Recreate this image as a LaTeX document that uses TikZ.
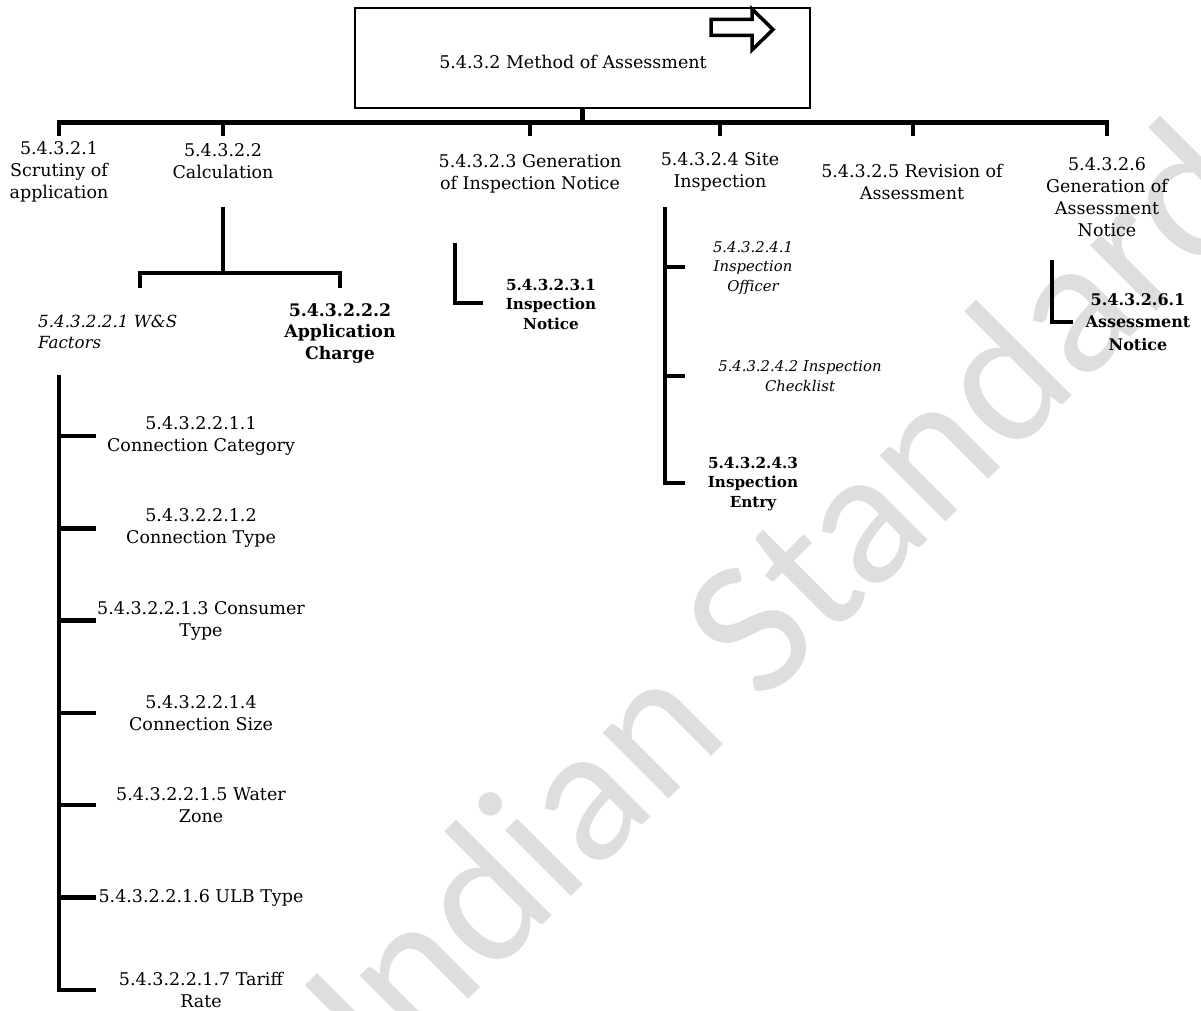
\documentclass[tikz,border=0pt]{standalone}
\usepackage{fontspec}
\setmainfont{DejaVu Serif}
\newfontfamily\wmfont{Carlito}

\begin{document}
\begin{tikzpicture}[x=1pt,y=-1pt]
  \tikzset{bar/.style={line width=4.5pt, line join=miter},
    lbl/.style={inner sep=0pt, align=center, font=\fontsize{17.5}{22}\selectfont},
    bold/.style={lbl, font=\bfseries\fontsize{17.3}{21.5}\selectfont},
    bsmall/.style={lbl, font=\bfseries\fontsize{15.2}{19.5}\selectfont},
    ismall/.style={lbl, font=\itshape\fontsize{14.8}{19.5}\selectfont},
    rootbox/.style={draw, line width=1.3pt, minimum width=455pt, minimum height=100pt, inner sep=0pt},
    wmark/.style={inner sep=0pt, text=black!13, font=\wmfont\fontsize{195}{195}\selectfont}}
  \useasboundingbox (0,0) rectangle (1201,1011);
  \node[wmark, rotate=45, anchor=base west] (wm) at (382,1086) {Indian Standard};

  \node[rootbox] (root) at (582.5,58) {};
  \node[lbl] (roottxt) at (573,62) {5.4.3.2 Method of Assessment};
  \draw[line width=3.5pt, line join=miter] (711,19.5) -- (752,19.5) -- (752,9) -- (773,29.5)
    -- (752,50) -- (752,35.5) -- (711,35.5) -- cycle;

  \coordinate (bus) at (582.5,122.5);
  \foreach \i/\x in {1/59,2/223,3/530,4/720,5/913,6/1107}
    \coordinate (k\i) at (\x,136);
  \draw[bar] (root.south) -- (bus);
  \draw[bar] (k1) |- (bus) -| (k6);
  \foreach \i in {2,...,5}
    \draw[bar] (k\i) -- (k\i |- bus);

  \node[lbl] (scrutiny) at (59,172) {5.4.3.2.1\\Scrutiny of\\application};
  \node[lbl] (calc) at (223,161) {5.4.3.2.2\\Calculation};
  \node[lbl] (gen) at (530,174) {5.4.3.2.3 Generation\\of Inspection Notice};
  \node[lbl] (site) at (720,171.5) {5.4.3.2.4 Site\\Inspection};
  \node[lbl] (revision) at (912,182) {5.4.3.2.5 Revision of\\Assessment};
  \node[lbl] (notice) at (1107,197) {5.4.3.2.6\\Generation of\\Assessment\\Notice};

  % calculation
  \coordinate (c0) at (223,207);
  \coordinate (cj) at (223,273);
  \coordinate (c1) at (140,288);
  \coordinate (c2) at (340,288);
  \draw[bar] (c0) -- (cj);
  \draw[bar] (c1) |- (cj) -| (c2);
  \node[lbl, font=\itshape\fontsize{16.7}{21.5}\selectfont, anchor=west, align=left] (factors) at (38,332)
    {5.4.3.2.2.1 W\&S\\Factors};
  \node[bold] (charge) at (340,333) {5.4.3.2.2.2\\Application\\Charge};

  \coordinate (w0) at (59,375);
  \foreach \i/\txt in {1/{5.4.3.2.2.1.1\\Connection Category}, 2/{5.4.3.2.2.1.2\\Connection Type},
      3/{5.4.3.2.2.1.3 Consumer\\Type}, 4/{5.4.3.2.2.1.4\\Connection Size},
      5/{5.4.3.2.2.1.5 Water\\Zone}, 6/{5.4.3.2.2.1.6 ULB Type}, 7/{5.4.3.2.2.1.7 Tariff\\Rate}}{
    \coordinate (e\i) at (96,{436+(\i-1)*92.3});
    \node[lbl] (factor\i) at (201,{436+(\i-1)*92.3}) {\txt};
    \draw[bar] (w0) |- (e\i);
  }

  % inspection notice
  \coordinate (g0) at (455,243);
  \coordinate (g1) at (483,303);
  \draw[bar] (g0) |- (g1);
  \node[bsmall] (insp) at (551,304) {5.4.3.2.3.1\\Inspection\\Notice};

  % site inspection
  \coordinate (s0) at (665,207);
  \foreach \i/\y in {1/267,2/376,3/483}{
    \coordinate (s\i) at (685,\y);
    \draw[bar] (s0) |- (s\i);
  }
  \node[ismall] (officer) at (753,268) {5.4.3.2.4.1\\Inspection\\Officer};
  \node[ismall] (checklist) at (800,376) {5.4.3.2.4.2 Inspection\\Checklist};
  \node[bsmall] (entry) at (753,484) {5.4.3.2.4.3\\Inspection\\Entry};

  % assessment notice
  \coordinate (a0) at (1052,260);
  \coordinate (a1) at (1073,322);
  \draw[bar] (a0) |- (a1);
  \node[bold, font=\bfseries\fontsize{16}{22.5}\selectfont] (assess) at (1138,322)
    {5.4.3.2.6.1\\Assessment\\Notice};
\end{tikzpicture}
\end{document}
